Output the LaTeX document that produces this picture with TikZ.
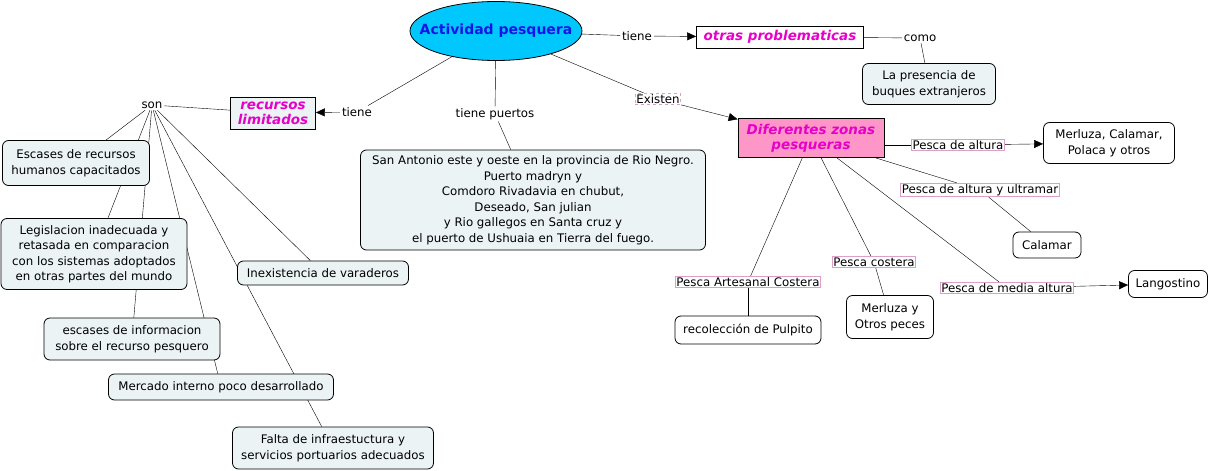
\documentclass[tikz,border=0pt]{standalone}
\usepackage{fontspec}
\setmainfont{DejaVu Sans}
\usetikzlibrary{shapes.geometric,arrows.meta,backgrounds}
\definecolor{conceptfill}{RGB}{236,243,245}
\definecolor{titlefill}{RGB}{0,200,255}
\definecolor{titletext}{RGB}{20,20,230}
\definecolor{hltext}{RGB}{230,0,200}
\definecolor{zonefill}{RGB}{255,150,200}
\definecolor{linkborder}{RGB}{220,160,200}
\tikzset{
    concept/.style={draw, rounded corners=6pt, fill=conceptfill, align=center, inner sep=2pt},
    whitebox/.style={draw, rounded corners=6pt, fill=white, align=center, inner sep=2pt},
    hlbox/.style={draw, thick, align=center, inner sep=2pt, text=hltext, font=\fontsize{13.5}{15}\selectfont\bfseries\itshape},
    linkword/.style={fill=white, inner sep=1.5pt},
    pinklink/.style={draw=linkborder, fill=white, inner sep=1pt},
    dashlink/.style={draw=linkborder, dashed, fill=white, inner sep=1pt},
    arr/.style={-{Triangle[length=9pt,width=8pt]}},
}
\begin{document}
\begin{tikzpicture}[x=1pt, y=-1pt, line width=0.8pt, font=\fontsize{11.8}{15.5}\selectfont]
    \useasboundingbox (0,0) rectangle (1213,471);
    \node[ellipse, draw, fill=titlefill, minimum width=172pt, minimum height=59pt, inner sep=0pt,
        label={[text=titletext, font=\fontsize{14}{15}\selectfont\bfseries]center:Actividad pesquera}] (act) at (496,31) {};
    % right side
    \node[linkword] (tieneA) at (637,36) {tiene};
    \node[hlbox, minimum width=167pt, minimum height=22pt] (otras) at (780,37) {otras problematicas};
    \node[linkword] (como) at (920,38) {como};
    \node[concept, minimum width=133pt, minimum height=41pt] (buques) at (929,84) {La presencia de\\buques extranjeros};
    \node[dashlink] (existen) at (658,99) {Existen};
    \node[hlbox, fill=zonefill, minimum width=146pt, minimum height=39pt] (zonas) at (811,138) {Diferentes zonas\\pesqueras};
    \node[pinklink] (altura) at (958,145) {Pesca de altura};
    \node[whitebox, minimum width=131pt, minimum height=41pt] (merluza) at (1109,143) {Merluza, Calamar,\\Polaca y otros};
    \node[pinklink] (ultramar) at (980,190) {Pesca de altura y ultramar};
    \node[whitebox, minimum width=68pt, minimum height=26pt] (calamar) at (1047,245) {Calamar};
    \node[pinklink] (media) at (1007,288) {Pesca de media altura};
    \node[whitebox, minimum width=79pt, minimum height=27pt] (langostino) at (1168,284) {Langostino};
    \node[pinklink] (costera) at (874,262) {Pesca costera};
    \node[whitebox, minimum width=87pt, minimum height=43pt] (peces) at (890,317) {Merluza y\\Otros peces};
    \node[pinklink] (artesanal) at (748,282) {Pesca Artesanal Costera};
    \node[whitebox, minimum width=146pt, minimum height=28pt] (pulpito) at (748,330) {recolección de Pulpito};
    % middle
    \node[linkword] (puertos) at (495,114) {tiene puertos};
    \node[concept, minimum width=345pt, minimum height=100pt] (sanantonio) at (533,200)
        {San Antonio este y oeste en la provincia de Rio Negro.\\Puerto madryn y\\Comdoro Rivadavia en chubut,\\Deseado, San julian\\y Rio gallegos en Santa cruz y\\el puerto de Ushuaia en Tierra del fuego.};
    % left side
    \node[linkword] (tieneB) at (357,112) {tiene};
    \node[hlbox, fill=conceptfill, minimum width=85pt, minimum height=32pt] (recursos) at (273,113) {recursos\\limitados};
    \node[linkword] (son) at (152,105) {son};
    \node[concept, minimum width=147pt, minimum height=45pt] (humanos) at (76,163) {Escases de recursos\\humanos capacitados};
    \node[concept, minimum width=186pt, minimum height=71pt] (legislacion) at (94,254)
        {Legislacion inadecuada y\\retasada en comparacion\\con los sistemas adoptados\\en otras partes del mundo};
    \node[concept, minimum width=176pt, minimum height=42pt] (informacion) at (132,339) {escases de informacion\\sobre el recurso pesquero};
    \node[concept, minimum width=225pt, minimum height=26pt] (mercado) at (221,387) {Mercado interno poco desarrollado};
    \node[concept, minimum width=171pt, minimum height=24pt] (varaderos) at (323,273) {Inexistencia de varaderos};
    \node[concept, minimum width=201pt, minimum height=42pt] (infra) at (333,448) {Falta de infraestuctura y\\servicios portuarios adecuados};
    \begin{scope}[on background layer]
        \draw (act) -- (tieneA);
        \draw[arr] (tieneA) -- (otras);
        \draw (otras) -- (como);
        \draw (como) -- (buques);
        \draw (act) -- (existen);
        \draw[arr] (existen) -- (zonas);
        \draw (zonas.east |- altura) -- (altura);
        \draw[arr] (altura) -- (merluza);
        \draw (zonas) -- (ultramar);
        \draw (ultramar) -- (calamar);
        \draw (zonas) -- (media);
        \draw[arr] (media) -- (langostino);
        \draw (zonas) -- (costera);
        \draw (costera) -- (peces);
        \draw (zonas) -- (artesanal);
        \draw (artesanal) -- (pulpito);
        \draw (act) -- (puertos);
        \draw (puertos) -- (sanantonio);
        \draw (act) -- (tieneB);
        \draw[arr] (tieneB) -- (recursos);
        \draw (recursos) -- (son);
        \foreach \target in {humanos, legislacion, informacion, mercado, varaderos, infra}
            \draw (son) -- (\target);
    \end{scope}
\end{tikzpicture}
\end{document}
